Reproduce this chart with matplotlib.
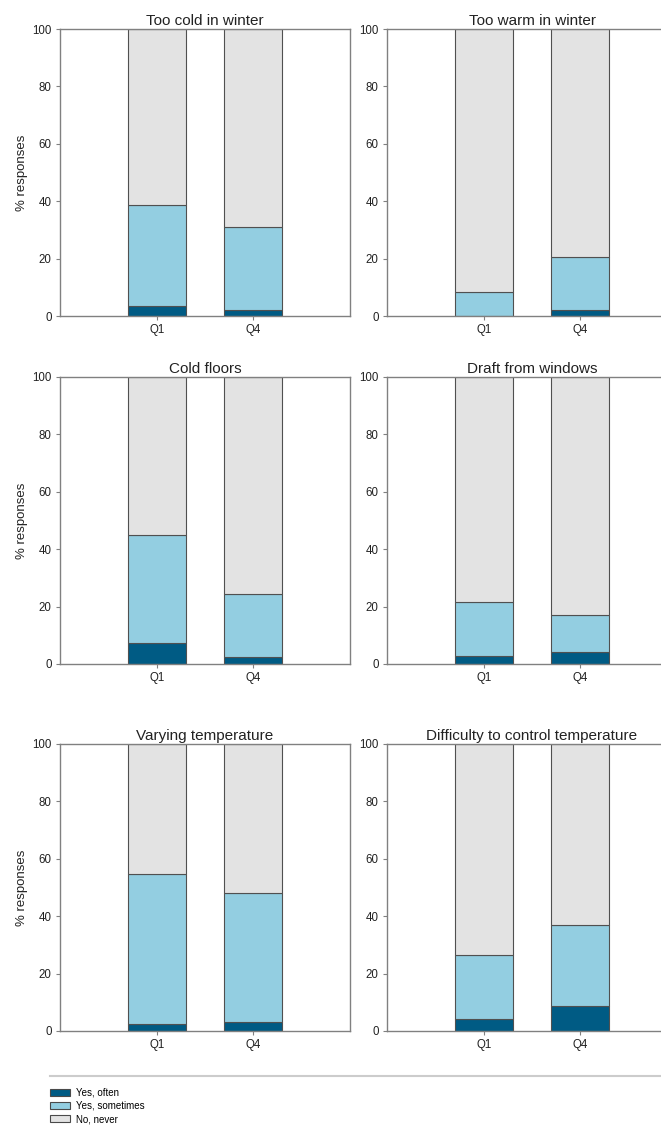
import matplotlib.pyplot as plt
from matplotlib.patches import Patch
from matplotlib.lines import Line2D

plt.rcParams['font.family'] = ['Liberation Sans', 'DejaVu Sans']

# Datos (% de respuestas)
titulos = ['Too cold in winter', 'Too warm in winter', 'Cold floors',
           'Draft from windows', 'Varying temperature',
           'Difficulty to control temperature']
grupos = ['Q1', 'Q4']
often = [[3.5, 2.0], [0.0, 2.0], [7.3, 2.5],
         [2.7, 4.0], [2.3, 3.0], [4.0, 8.7]]
sometimes = [[35.2, 29.0], [8.5, 18.5], [37.7, 22.0],
             [19.0, 13.0], [52.5, 45.0], [22.5, 28.3]]
never = [[61.3, 69.0], [91.5, 79.5], [55.0, 75.5],
         [78.3, 83.0], [45.2, 52.0], [73.5, 63.0]]
etiquetas = ['Yes, often', 'Yes, sometimes', 'No, never']
colores = ['#005b84', '#93cee1', '#e3e3e3']

fig = plt.figure(figsize=(6.61, 11.25), dpi=100)

# posiciones de los paneles en fraccion de figura
xs = [0.0908, 0.5855]
ys = [0.7191, 0.4098, 0.0836]
w, h = 0.4387, 0.2551

for i in range(6):
    ax = fig.add_axes([xs[i % 2], ys[i // 2], w, h])
    pos = [0, 1]
    base = [0, 0]
    for serie, col in zip([often[i], sometimes[i], never[i]], colores):
        ax.bar(pos, serie, 0.6, bottom=base, color=col,
               edgecolor='#505050', linewidth=0.8)
        base = [b + s for b, s in zip(base, serie)]
    ax.set_xlim(-1, 2)
    ax.set_ylim(0, 100)
    ax.set_xticks(pos)
    ax.set_xticklabels(grupos)
    ax.set_yticks([0, 20, 40, 60, 80, 100])
    ax.tick_params(labelsize=8.3, length=3, width=0.8, color='#808080',
                   pad=3, labelcolor='#222222')
    for s in ax.spines.values():
        s.set_color('#808080')
        s.set_linewidth(1.0)
    ax.set_title(titulos[i], fontsize=11, pad=3, color='#222222')
    if i % 2 == 0:
        ax.set_ylabel('% responses', fontsize=9.5, color='#222222', labelpad=3)

# linea separadora y leyenda
fig.add_artist(Line2D([50 / 661, 1.0], [1 - 1076 / 1125] * 2,
                      transform=fig.transFigure, color='#cccccc', linewidth=1.5))
handles = [Patch(facecolor=c, edgecolor='#4a4a4a', linewidth=0.8) for c in colores]
fig.legend(handles, etiquetas, loc='upper left',
           bbox_to_anchor=(46 / 661, 1 - 1084 / 1125), frameon=False,
           fontsize=7, handlelength=2.1, handleheight=0.8,
           labelspacing=0.32, handletextpad=0.6, borderaxespad=0)

fig.savefig('out.png', dpi=100)
